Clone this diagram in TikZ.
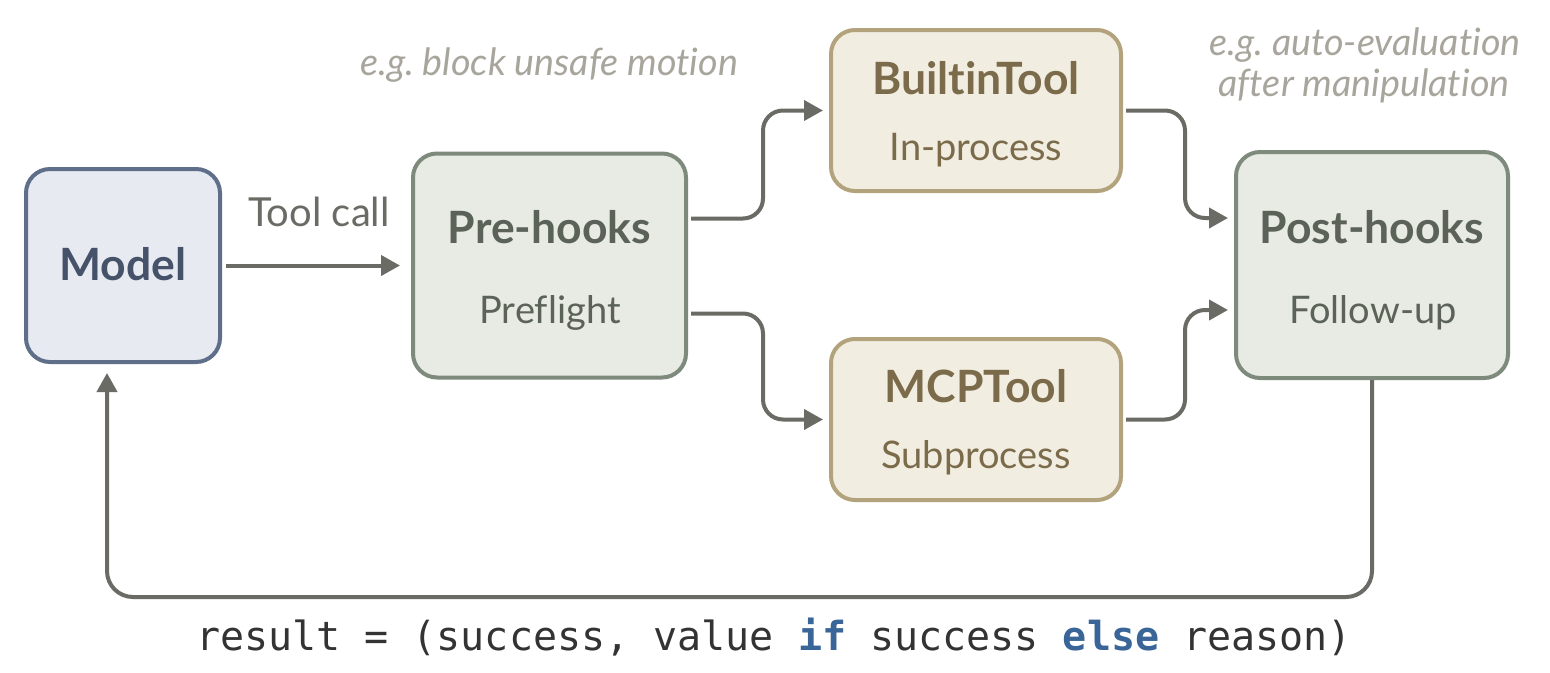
\documentclass[tikz,border=0pt]{standalone}
\usepackage{fontspec}
\setmainfont{Lato}[Ligatures=NoCommon]
\setmonofont{DejaVu Sans Mono}
\usetikzlibrary{arrows.meta,calc}
\frenchspacing
\definecolor{modelfill}{HTML}{E7EAF1}
\definecolor{modeldraw}{HTML}{5F6F89}
\definecolor{modeltext}{HTML}{46516A}
\definecolor{hookfill}{HTML}{E8EAE4}
\definecolor{hookdraw}{HTML}{7E8A7C}
\definecolor{hooktext}{HTML}{5B6359}
\definecolor{toolfill}{HTML}{F1EEE1}
\definecolor{tooldraw}{HTML}{B3A37C}
\definecolor{tooltext}{HTML}{7B6B4B}
\definecolor{arrowcol}{HTML}{6B6B66}
\definecolor{notecol}{HTML}{A8A59C}
\definecolor{codecol}{HTML}{333333}
\definecolor{kwcol}{HTML}{3A6598}
\tikzset{
  box/.style={draw, rounded corners=24pt, line width=4pt, inner sep=0pt},
  modelbox/.style={box, fill=modelfill, draw=modeldraw},
  hookbox/.style={box, fill=hookfill, draw=hookdraw},
  toolbox/.style={box, fill=toolfill, draw=tooldraw},
  title/.style={font=\fontsize{44.5}{44.5}\selectfont\bfseries, inner sep=0pt},
  sub/.style={font=\fontsize{38}{38}\selectfont, inner sep=0pt},
  note/.style={font=\fontsize{37.7}{37.7}\selectfont\itshape, text=notecol, inner sep=0pt},
  arr/.style={draw=arrowcol, line width=4pt, rounded corners=20pt,
    -{Triangle[length=19pt,width=20pt]}},
}
\begin{document}
\frenchspacing
\begin{tikzpicture}[x=1pt,y=-1pt]
\useasboundingbox[fill=white] (0,0) rectangle (1550,672);
% boxes
\node[modelbox, minimum width=194pt, minimum height=193pt] (model) at (123,265.5) {};
\node[hookbox, minimum width=273pt, minimum height=224pt] (pre) at (549.5,265.5) {};
\node[toolbox, minimum width=290pt, minimum height=161pt] (bt) at (976,110.5) {};
\node[toolbox, minimum width=290pt, minimum height=161pt] (mcp) at (976,419.5) {};
\node[hookbox, minimum width=272pt, minimum height=226pt] (post) at (1372,265) {};
% texts
\node[title, text=modeltext] (modelt) at (123,264) {Model};
\node[title, text=hooktext] (pret) at (549.5,227) {Pre-hooks};
\node[sub, text=hooktext] (pres) at (550,313) {Preflight};
\node[title, text=tooltext] (btt) at (976,78) {BuiltinTool};
\node[sub, text=tooltext] (bts) at (976,150) {In-process};
\node[title, text=tooltext] (mcpt) at (976,386) {MCPTool};
\node[sub, text=tooltext] (mcps) at (976,458) {Subprocess};
\node[title, text=hooktext] (postt) at (1372,227) {Post-hooks};
\node[sub, text=hooktext] (posts) at (1373,313) {Follow-up};
% annotations
\node[note] (n1) at (549,65) {e.g.\ block unsafe motion};
\node[note] (n2) at (1365,45) {e.g.\ auto-evaluation};
\node[note] (n3) at (1364,86) {after manipulation};
\node[font=\fontsize{40}{40}\selectfont, text=arrowcol, inner sep=0pt] (tc) at (319,212) {Tool call};
% connectors
\draw[arr] ([xshift=4pt]model.east) -- ([xshift=-11pt]pre.west);
\draw[arr] ([shift={(3,-47)}]pre.east) -- ++(72,0) |- ([xshift=-6pt]bt.west);
\draw[arr] ([shift={(3,48)}]pre.east) -- ++(72,0) |- ([xshift=-6pt]mcp.west);
\draw[arr] ([xshift=3pt]bt.east) -- ++(59,0) |- ([shift={(-6,-47)}]post.west);
\draw[arr] ([xshift=3pt]mcp.east) -- ++(59,0) |- ([shift={(-6,45)}]post.west);
\coordinate (ret) at (1372,597);
\draw[arr, rounded corners=26pt] (post.south) -- (ret) -| ([shift={(-16,9)}]model.south);
% code
\node[font=\fontsize{40}{40}\selectfont\ttfamily, text=codecol, inner sep=0pt] (code) at (774,637)
  {result = (success, value \textcolor{kwcol}{\bfseries if} success \textcolor{kwcol}{\bfseries else} reason)};
\end{tikzpicture}
\end{document}
